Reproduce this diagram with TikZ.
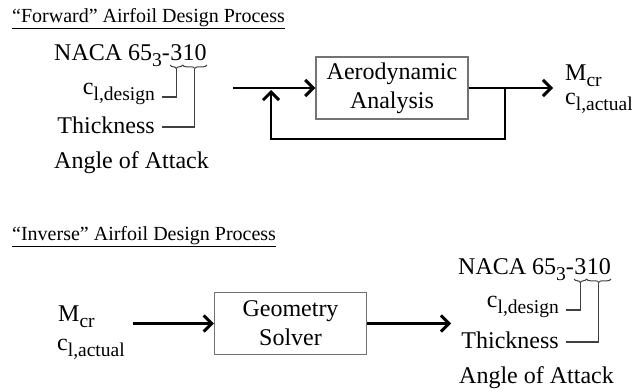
\documentclass[tikz,border=0pt]{standalone}
\usepackage{fontspec}
\setmainfont{Liberation Serif}
\usetikzlibrary{calc, arrows.meta, positioning, decorations.pathreplacing}

% subindice bajado, como en c_{l,design}
\newcommand{\lowidx}[1]{\raisebox{-6pt}{\fontsize{19.5}{19.5}\selectfont #1}}

\begin{document}
\begin{tikzpicture}[x=1pt, y=-1pt, >={Straight Barb[length=8pt, width=16pt, line width=3pt]}, font=\fontsize{24}{29}\selectfont]
        % Estilos
        \tikzstyle{block} = [draw=black!55, line width=1.3pt, rectangle, minimum width=152pt, minimum height=62pt, align=center, inner sep=2pt]
        \tikzstyle{flow} = [line width=2.8pt]
        \tikzstyle{lead} = [draw=black!75, line width=1.2pt]
        \tikzstyle{digitbrace} = [draw=black!75, line width=1pt, decorate, decoration={brace, mirror, amplitude=3.5pt}]
        \tikzstyle{txt} = [inner sep=0pt]
        \tikzstyle{heading} = [inner sep=0pt, anchor=base west, font=\fontsize{20}{24}\selectfont]

        \useasboundingbox (0,0) rectangle (632,391);

        % Proceso directo
        \node [heading] (titleForward) at (12,22) {\underline{``Forward'' Airfoil Design Process}};
        \node [txt, anchor=base west] (nacaForward) at (54,60) {NACA 65\lowidx{3}-};
        \node [txt, anchor=base west] (camberForward) at (nacaForward.base east) {3};
        \node [txt, anchor=base west] (thickForward) at (camberForward.base east) {10};
        \node [txt, anchor=base east] (designForward) at (155,94) {c\lowidx{l,design}};
        \node [txt, anchor=base east] (thicknessForward) at (155,133) {Thickness};
        \node [txt, anchor=base west] (angleForward) at (54,168) {Angle of Attack};

        \node [block] (aeroAnalysis) at (392,88) {Aerodynamic\\Analysis};
        \node [txt, anchor=base west] (machForward) at (565,80) {M\lowidx{cr}};
        \node [txt, anchor=base west] (liftForward) at (565,104) {c\lowidx{l,actual}};

        \coordinate (inputForward) at (233,88);
        \coordinate (splitForward) at (505,88);
        \coordinate (outputForward) at (553,88);
        \coordinate (elbowFeedback1) at (505,139);
        \coordinate (elbowFeedback2) at (271,139);
        \coordinate (joinForward) at (271,90);

        % Llaves bajo las cifras
        \draw [digitbrace] ([yshift=-5pt]camberForward.base west) -- ([yshift=-5pt]camberForward.base east);
        \draw [digitbrace] ([yshift=-5pt]thickForward.base west) -- ([yshift=-5pt]thickForward.base east);
        \coordinate (tipCamberForward) at ([yshift=-8.5pt]camberForward.base);
        \coordinate (tipThickForward) at ([yshift=-8.5pt]thickForward.base);
        \coordinate (tickDesignForward) at ([xshift=7pt, yshift=-3pt]designForward.base east);
        \coordinate (tickThicknessForward) at ([xshift=7pt, yshift=6pt]thicknessForward.base east);
        \draw [lead] (tipCamberForward) |- (tickDesignForward);
        \draw [lead] (tipThickForward) |- (tickThicknessForward);

        \draw [flow, ->] (inputForward) -- (aeroAnalysis);
        \draw [flow, ->] (aeroAnalysis) -- (outputForward);
        \draw [flow, ->] (splitForward) -- (elbowFeedback1) -- (elbowFeedback2) -- (joinForward);

        % Proceso inverso
        \node [heading] (titleInverse) at (12,240) {\underline{``Inverse'' Airfoil Design Process}};
        \node [txt, anchor=base west] (machInverse) at (58,321) {M\lowidx{cr}};
        \node [txt, anchor=base west] (liftInverse) at (57,350) {c\lowidx{l,actual}};
        \node [block] (geometrySolver) at (290.5,323.5) {Geometry\\Solver};

        \node [txt, anchor=base west] (nacaInverse) at (458,274) {NACA 65\lowidx{3}-};
        \node [txt, anchor=base west] (camberInverse) at (nacaInverse.base east) {3};
        \node [txt, anchor=base west] (thickInverse) at (camberInverse.base east) {10};
        \node [txt, anchor=base east] (designInverse) at (559,307) {c\lowidx{l,design}};
        \node [txt, anchor=base east] (thicknessInverse) at (559,348) {Thickness};
        \node [txt, anchor=base west] (angleInverse) at (459,383) {Angle of Attack};

        \coordinate (inputInverse) at (133,323.5);
        \coordinate (outputInverse) at (451,323.5);

        \draw [digitbrace] ([yshift=-5pt]camberInverse.base west) -- ([yshift=-5pt]camberInverse.base east);
        \draw [digitbrace] ([yshift=-5pt]thickInverse.base west) -- ([yshift=-5pt]thickInverse.base east);
        \coordinate (tipCamberInverse) at ([yshift=-8.5pt]camberInverse.base);
        \coordinate (tipThickInverse) at ([yshift=-8.5pt]thickInverse.base);
        \coordinate (tickDesignInverse) at ([xshift=7pt, yshift=-3pt]designInverse.base east);
        \coordinate (tickThicknessInverse) at ([xshift=7pt, yshift=6pt]thicknessInverse.base east);
        \draw [lead] (tipCamberInverse) |- (tickDesignInverse);
        \draw [lead] (tipThickInverse) |- (tickThicknessInverse);

        \draw [flow, ->] (inputInverse) -- (geometrySolver);
        \draw [flow, ->] (geometrySolver) -- (outputInverse);
\end{tikzpicture}
\end{document}
